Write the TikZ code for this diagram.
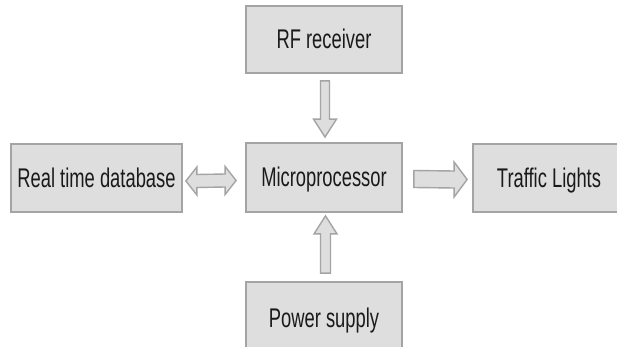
\documentclass[tikz,border=0pt]{standalone}
\usepackage{fontspec}
\setmainfont{Liberation Sans}[FakeStretch=0.68]
\usetikzlibrary{calc}
\definecolor{boxfill}{HTML}{DEDEDE}
\definecolor{boxline}{HTML}{A4A4A4}
\definecolor{txt}{HTML}{1A1A1A}
\tikzset{
  blockbox/.style={draw=boxline, fill=boxfill, line width=1.8pt, inner sep=0pt,
    text=txt, font=\fontsize{27}{32}\selectfont, text height=18.6pt, text depth=0pt},
  barrow/.style={draw=boxline, fill=boxfill, line width=1.4pt, line join=miter}
}
\begin{document}
\begin{tikzpicture}[x=1pt, y=-1pt]
\useasboundingbox (0,0) rectangle (617,347);
\clip (0,0) rectangle (617,347);
\fill[white] (0,0) rectangle (617,347);
\node[blockbox, minimum width=156pt, minimum height=67pt] (rf) at (324,39.5) {RF receiver};
\node[blockbox, minimum width=156pt, minimum height=69pt] (mp) at (324,177.5) {Microprocessor};
\node[blockbox, minimum width=171pt, minimum height=68pt] (db) at (96.5,178) {Real time database};
\node[blockbox, minimum width=152pt, minimum height=68pt] (tl) at (549,178) {Traffic Lights};
\node[blockbox, minimum width=156pt, minimum height=72pt] (ps) at (324,318) {Power supply};
% down arrow
\coordinate (da) at ([xshift=1pt,yshift=-7pt]rf.south);
\coordinate (dt) at ([xshift=1pt,yshift=5pt]mp.north);
\draw[barrow] ($(da)+(-4.5,0)$) -- ($(dt)+(-4.5,-18)$) -- ($(dt)+(-11.5,-18)$) -- (dt)
  -- ($(dt)+(11.5,-18)$) -- ($(dt)+(4.5,-18)$) -- ($(da)+(4.5,0)$) -- cycle;
% up arrow
\coordinate (ua) at ([xshift=1.5pt,yshift=8pt]ps.north);
\coordinate (ut) at ([xshift=1.5pt,yshift=-3pt]mp.south);
\draw[barrow] ($(ua)+(-5,0)$) -- ($(ut)+(-5,18)$) -- ($(ut)+(-11.5,18)$) -- (ut)
  -- ($(ut)+(11.5,18)$) -- ($(ut)+(5,18)$) -- ($(ua)+(5,0)$) -- cycle;
% right arrow
\coordinate (ra) at ([xshift=11pt,yshift=-1.5pt]mp.east);
\coordinate (rt) at ([xshift=-5pt,yshift=-1.5pt]tl.west);
\draw[barrow] ($(ra)+(0,-8.5)$) -- ($(rt)+(-13,-8.5)$) -- ($(rt)+(-13,-17.5)$) -- (rt)
  -- ($(rt)+(-13,17.5)$) -- ($(rt)+(-13,8.5)$) -- ($(ra)+(0,8.5)$) -- cycle;
% double arrow
\coordinate (la) at ([xshift=3pt,yshift=-3pt]db.east);
\coordinate (lb) at ([xshift=-9pt,yshift=-3pt]mp.west);
\draw[barrow] (la) -- ($(la)+(11,-14)$) -- ($(la)+(11,-6.5)$) -- ($(lb)+(-11,-6.5)$)
  -- ($(lb)+(-11,-14)$) -- (lb) -- ($(lb)+(-11,14)$) -- ($(lb)+(-11,6.5)$)
  -- ($(la)+(11,6.5)$) -- ($(la)+(11,14)$) -- cycle;
\end{tikzpicture}
\end{document}
